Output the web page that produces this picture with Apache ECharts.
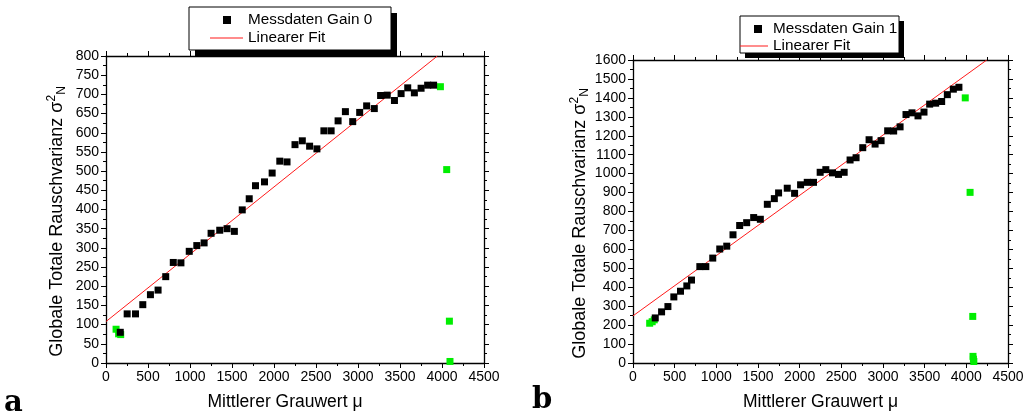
<!DOCTYPE html>
<html>
<head>
<meta charset="utf-8">
<script src="https://cdn.jsdelivr.net/npm/echarts@6/dist/echarts.min.js"></script>
<style>html,body{margin:0;padding:0;background:#fff}#c{width:1028px;height:416px}</style>
</head>
<body>
<div id="c"></div>
<script>
// ---- Data ----
const xTicksA = [0, 500, 1000, 1500, 2000, 2500, 3000, 3500, 4000, 4500];
const yTicksA = [0, 800, 50];      // min, max, step
const yTicksB = [0, 1600, 100];

const gain0X = [170,252,351,438,529,620,711,801,892,991,1081,1168,1251,1354,1441,1528,1622,1705,1780,1887,1978,2069,2155,2250,2337,2424,2511,2594,2680,2763,2850,2937,3020,3103,3194,3269,3348,3434,3513,3592,3671,3751,3829,3900];
const gain0Y = [80,128,128,152,178,190,225,262,261,291,306,313,338,346,350,343,399,428,462,472,495,526,524,569,579,565,558,605,605,631,655,629,653,670,663,697,698,684,702,717,704,716,724,724];
const gain0OutX = [120,150,175,3981,4056,4088,4095];
const gain0OutY = [88,76,74,720,504,109,4];
const fit0X = [0, 3945];
const fit0Y = [108, 800];

const gain1X = [267,343,419,490,570,646,702,802,874,957,1041,1125,1200,1280,1364,1448,1528,1612,1696,1747,1851,1939,2011,2091,2166,2246,2314,2394,2466,2534,2605,2677,2757,2833,2905,2977,3056,3128,3205,3276,3348,3420,3492,3560,3632,3704,3772,3844,3911];
const gain1Y = [238,270,298,349,379,407,438,509,509,554,602,617,677,726,741,768,759,838,868,898,923,896,941,954,954,1007,1021,1004,996,1007,1072,1084,1137,1179,1156,1174,1226,1225,1247,1312,1321,1305,1325,1367,1372,1381,1417,1446,1456];
const gain1OutX = [200,230,255,3987,4045,4077,4080,4085,4090];
const gain1OutY = [210,218,228,1400,901,246,35,20,8];
const fit1X = [0, 4245];
const fit1Y = [249, 1600];

const names = {s0: 'Messdaten Gain 0', s1: 'Messdaten Gain 1', fit: 'Linearer Fit'};
const xName = 'Mittlerer Grauwert μ';
const yName = 'Globale Totale Rauschvarianz σ{sup|2}{sub|N}';

// ---- Helpers ----
const zip = (xs, ys) => xs.map((x, i) => [x, ys[i]]);
const FONT = '"Liberation Sans", Arial, Helvetica, sans-serif';
const BLACK = '#000';
const GREEN = '#00ee00';
const RED = '#ff1a1a';

function xAxes(grid) {
  const base = {
    gridIndex: grid, type: 'value', min: xTicksA[0], max: xTicksA[xTicksA.length - 1],
    interval: xTicksA[1] - xTicksA[0],
    axisLine: {show: true, onZero: false, lineStyle: {color: BLACK, width: 1.3}},
    axisTick: {show: true, inside: false, length: 5, lineStyle: {color: BLACK, width: 1}},
    minorTick: {show: true, splitNumber: 2, length: 3, lineStyle: {color: BLACK, width: 1}},
    splitLine: {show: false}, minorSplitLine: {show: false}
  };
  return [
    Object.assign({}, base, {
      position: 'bottom',
      axisLabel: {show: true, color: BLACK, fontSize: 14, fontFamily: FONT, margin: 7, formatter: v => String(v)},
      name: xName, nameLocation: 'middle', nameGap: 30,
      nameTextStyle: {color: BLACK, fontSize: 17.5, fontFamily: FONT, padding: grid === 0 ? [0, 20, 0, 0] : [0, 0, 0, 0]}
    }),
    Object.assign({}, base, {position: 'top', axisLabel: {show: false}})
  ];
}

function yAxes(grid, t, gap) {
  const base = {
    gridIndex: grid, type: 'value', min: t[0], max: t[1], interval: t[2],
    axisLine: {show: true, onZero: false, lineStyle: {color: BLACK, width: 1.3}},
    axisTick: {show: true, inside: false, length: 5, lineStyle: {color: BLACK, width: 1}},
    minorTick: {show: true, splitNumber: 2, length: 3, lineStyle: {color: BLACK, width: 1}},
    splitLine: {show: false}, minorSplitLine: {show: false}
  };
  return [
    Object.assign({}, base, {
      position: 'left',
      axisLabel: {show: true, color: BLACK, fontSize: 14, fontFamily: FONT, margin: 7, formatter: v => String(v)},
      name: yName, nameLocation: 'middle', nameGap: gap,
      nameTextStyle: {
        color: BLACK, fontSize: 18, fontFamily: FONT, padding: [0, 24, 0, 0],
        rich: {
          sup: {fontSize: 12, fontFamily: FONT, color: BLACK, padding: [0, 0, 10, 0]},
          sub: {fontSize: 12, fontFamily: FONT, color: BLACK, padding: [10, 0, 0, 0]}
        }
      }
    }),
    Object.assign({}, base, {position: 'right', axisLabel: {show: false}})
  ];
}

function legendBox(x, y, w, h, off) {
  return [
    {type: 'rect', shape: {x: x + off, y: y + off, width: w, height: h}, style: {fill: BLACK}, z: 1, silent: true},
    {type: 'rect', shape: {x: x, y: y, width: w, height: h}, style: {fill: '#fff', stroke: BLACK, lineWidth: 1}, z: 2, silent: true}
  ];
}

const chart = echarts.init(document.getElementById('c'), null, {renderer: 'canvas'});

const legendCommon = {
  orient: 'vertical', padding: 0, itemHeight: 16,
  backgroundColor: 'transparent', borderWidth: 0,
  textStyle: {color: BLACK, fontSize: 15.3, fontFamily: FONT, lineHeight: 16},
  selectedMode: false, z: 10
};

const option = {
  backgroundColor: '#fff',
  animation: false,
  grid: [
    {left: 106, top: 56, width: 378, height: 307},
    {left: 633, top: 60, width: 375, height: 304}
  ],
  xAxis: [].concat(xAxes(0), xAxes(1)),
  yAxis: [].concat(yAxes(0, yTicksA, 38), yAxes(1, yTicksB, 38)),
  legend: [
    Object.assign({}, legendCommon, {
      data: [
        {name: names.s0, icon: 'path://M0,0M33,16M13,4h8v8h-8z'},
        {name: names.fit, icon: 'path://M0,0M33,16M0,7.5h33v1h-33z'}
      ],
      left: 210, top: 12, itemWidth: 33, itemGap: 2
    }),
    Object.assign({}, legendCommon, {
      data: [
        {name: names.s1, icon: 'path://M0,0M28,16M14,4h8v8h-8z'},
        {name: names.fit, icon: 'path://M0,0M28,16M0,7.5h28v1h-28z'}
      ],
      left: 740, top: 21, itemWidth: 28, itemGap: 1
    })
  ],
  graphic: [].concat(
    legendBox(189, 7, 202, 43, 6),
    legendBox(740, 16, 159, 37, 5),
    [
      {type: 'text', left: 4, top: 389, style: {text: 'a', font: 'bold 29px "DejaVu Serif", serif', fill: BLACK}},
      {type: 'text', left: 532, top: 386, style: {text: 'b', font: 'bold 29px "DejaVu Serif", serif', fill: BLACK}}
    ]
  ),
  series: [
    {name: 'Ausreißer Gain 0', type: 'scatter', xAxisIndex: 0, yAxisIndex: 0, symbol: 'rect', symbolSize: 7,
      itemStyle: {color: GREEN, opacity: 1}, data: zip(gain0OutX, gain0OutY), z: 2},
    {name: names.fit, type: 'line', xAxisIndex: 0, yAxisIndex: 0, symbol: 'none', clip: true,
      lineStyle: {color: RED, width: 1}, itemStyle: {color: RED}, data: zip(fit0X, fit0Y), z: 3},
    {name: names.s0, type: 'scatter', xAxisIndex: 0, yAxisIndex: 0, symbol: 'rect', symbolSize: 7,
      itemStyle: {color: BLACK, opacity: 1}, data: zip(gain0X, gain0Y), z: 4},

    {name: 'Ausreißer Gain 1', type: 'scatter', xAxisIndex: 2, yAxisIndex: 2, symbol: 'rect', symbolSize: 7,
      itemStyle: {color: GREEN, opacity: 1}, data: zip(gain1OutX, gain1OutY), z: 2},
    {name: names.fit, type: 'line', xAxisIndex: 2, yAxisIndex: 2, symbol: 'none', clip: true,
      lineStyle: {color: RED, width: 1}, itemStyle: {color: RED}, data: zip(fit1X, fit1Y), z: 3},
    {name: names.s1, type: 'scatter', xAxisIndex: 2, yAxisIndex: 2, symbol: 'rect', symbolSize: 7,
      itemStyle: {color: BLACK, opacity: 1}, data: zip(gain1X, gain1Y), z: 4}
  ]
};
chart.setOption(option);
</script>
</body>
</html>
